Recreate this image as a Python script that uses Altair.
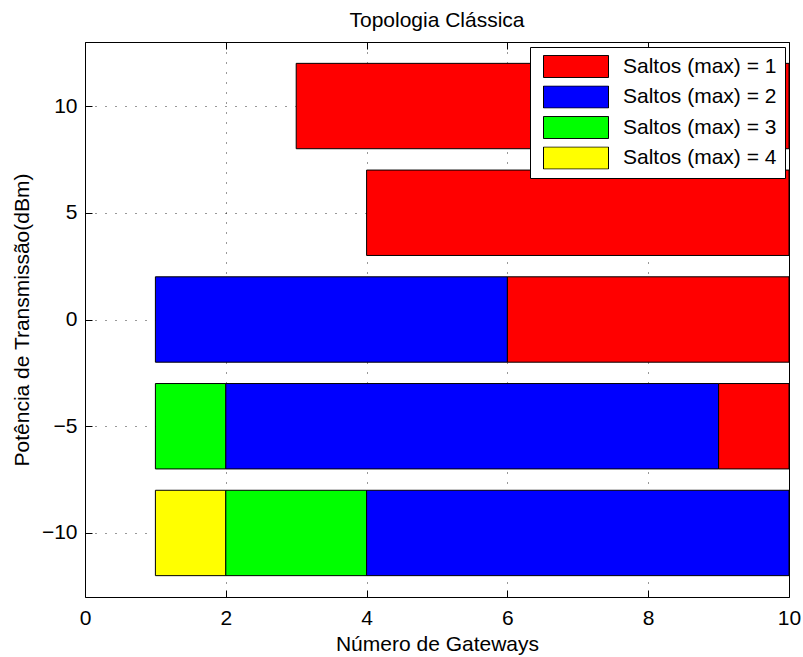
import altair as alt
import pandas as pd

# Data
power = [10, 5, 0, 0, -5, -5, -5, -10, -10, -10]
gw_start = [3, 4, 1, 6, 1, 2, 9, 1, 2, 4]
gw_end = [10, 10, 6, 10, 2, 9, 10, 2, 4, 10]
saltos = [1, 1, 2, 1, 3, 2, 1, 4, 3, 2]

series_names = ["Saltos (max) = 1", "Saltos (max) = 2", "Saltos (max) = 3", "Saltos (max) = 4"]
series_colors = ["#FF0000", "#0000FF", "#00FF00", "#FFFF00"]
x_ticks = [0, 2, 4, 6, 8, 10]
y_ticks = [-10, -5, 0, 5, 10]
half_height = 2

df = pd.DataFrame({
    "power": power,
    "start": gw_start,
    "end": gw_end,
    "serie": [series_names[s - 1] for s in saltos],
})

FONT = "Liberation Sans"
FS = 21
xscale = alt.Scale(domain=[0, 10], nice=False, zero=False)
yscale = alt.Scale(domain=[-13, 13], nice=False, zero=False)
grid_dash = [1, 9]

base = alt.Chart(df).transform_calculate(
    y0="datum.power - %d" % half_height,
    y1="datum.power + %d" % half_height,
)

bars = base.mark_bar(stroke="black", strokeWidth=1, clip=True).encode(
    x=alt.X("start:Q", scale=xscale,
            axis=alt.Axis(values=x_ticks, title="Número de Gateways", grid=True,
                          gridDash=grid_dash, gridColor="#000000", gridOpacity=0.8,
                          tickSize=0, domain=False, labelPadding=10, titlePadding=5,
                          labelFontSize=FS, titleFontSize=FS, labelFont=FONT, titleFont=FONT,
                          titleFontWeight="normal", labelColor="black", titleColor="black",
                          labelFlush=False)),
    x2="end:Q",
    y=alt.Y("y0:Q", scale=yscale,
            axis=alt.Axis(values=y_ticks, title="Potência de Transmissão(dBm)", grid=True,
                          gridDash=grid_dash, gridColor="#000000", gridOpacity=0.8,
                          tickSize=0, domain=False, labelPadding=8, titlePadding=9,
                          labelFontSize=FS, titleFontSize=FS, labelFont=FONT, titleFont=FONT,
                          titleFontWeight="normal", labelColor="black", titleColor="black",
                          labelFlush=False)),
    y2="y1:Q",
    color=alt.Color("serie:N",
                    scale=alt.Scale(domain=series_names, range=series_colors),
                    legend=alt.Legend(title=None, orient="none", legendX=445, legendY=5,
                                      fillColor="white", strokeColor="black", padding=8,
                                      symbolType="M-1,-0.34H1V0.34H-1Z", symbolSize=4225,
                                      symbolStrokeColor="black", symbolStrokeWidth=1,
                                      symbolOpacity=1, symbolOffset=5, labelOffset=14,
                                      clipHeight=23, rowPadding=7.5,
                                      labelFontSize=FS, labelFont=FONT, labelColor="black",
                                      labelLimit=400)),
)

tick_axis = dict(labels=False, grid=False, domain=False, tickSize=7, offset=-7,
                 tickColor="black", tickWidth=1, title="")

ticks_bl = base.mark_point(opacity=0).encode(
    x=alt.X("start:Q", scale=xscale, axis=alt.Axis(values=x_ticks, orient="bottom", **tick_axis)),
    y=alt.Y("power:Q", scale=yscale, axis=alt.Axis(values=y_ticks, orient="left", **tick_axis)),
)
ticks_tr = base.mark_point(opacity=0).encode(
    x=alt.X("start:Q", scale=xscale, axis=alt.Axis(values=x_ticks, orient="top", **tick_axis)),
    y=alt.Y("power:Q", scale=yscale, axis=alt.Axis(values=y_ticks, orient="right", **tick_axis)),
)

chart = alt.layer(bars, ticks_bl, ticks_tr).resolve_axis(
    x="independent", y="independent"
).properties(
    width=704,
    height=555,
    title=alt.TitleParams("Topologia Clássica", font=FONT, fontSize=FS, fontWeight="normal",
                          color="black", anchor="middle", offset=11),
    autosize=alt.AutoSizeParams(type="none"),
    padding={"left": 85, "top": 42, "right": 14, "bottom": 60},
    background="white",
).configure_view(stroke="black", strokeWidth=1)

chart.save("out.html", embed_options={"renderer": "svg", "actions": False})
